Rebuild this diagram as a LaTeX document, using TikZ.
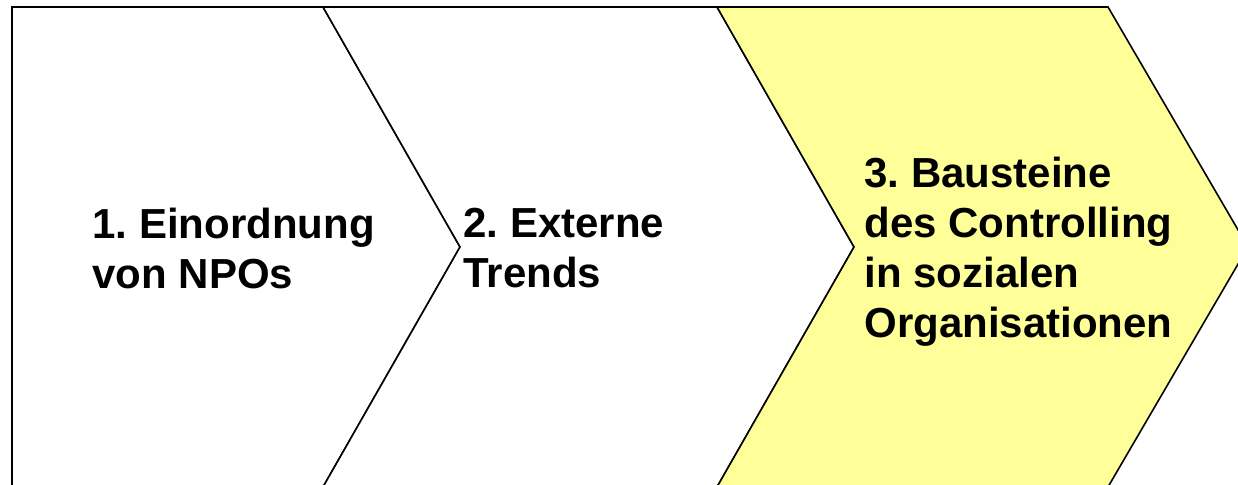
\documentclass[tikz,border=0pt]{standalone}
\usepackage{fontspec}
\setmainfont{Liberation Sans}
\usepackage{xcolor}
\usepackage{tikz}
\frenchspacing
\definecolor{paleyellow}{HTML}{FFFF99}
\tikzset{chev/.style={draw,line width=0.8pt,line join=miter},
         lbl/.style={anchor=base west,align=left,inner sep=0pt,font=\bfseries\fontsize{21pt}{25pt}\selectfont}}

\begin{document}
\begin{tikzpicture}[x=0.5pt,y=-0.5pt]
        \useasboundingbox (0,0) rectangle (1238,485);
        \clip (0,0) rectangle (1238,485);
        \fill[white] (0,0) rectangle (1238,485);

        \draw[chev,fill=white] (12,7) -- (323,7) -- (460,247) -- (323,487) -- (12,487) -- cycle;
        \draw[chev,fill=white] (323,7) -- (717,7) -- (854,247) -- (717,487) -- (323,487) -- (460,247) -- cycle;
        \draw[chev,fill=paleyellow] (717,7) -- (1108,7) -- (1248,247) -- (1108,487) -- (717,487) -- (854,247) -- cycle;

        % base anchor sits on the last line
        \node[lbl] (a) at (92,289) {1. Einordnung\\von NPOs};
        \node[lbl] (b) at (463,288) {2. Externe\\Trends};
        \node[lbl] (c) at (864,338) {3. Bausteine\\des Controlling\\in sozialen\\Organisationen};
    \end{tikzpicture}
\end{document}
